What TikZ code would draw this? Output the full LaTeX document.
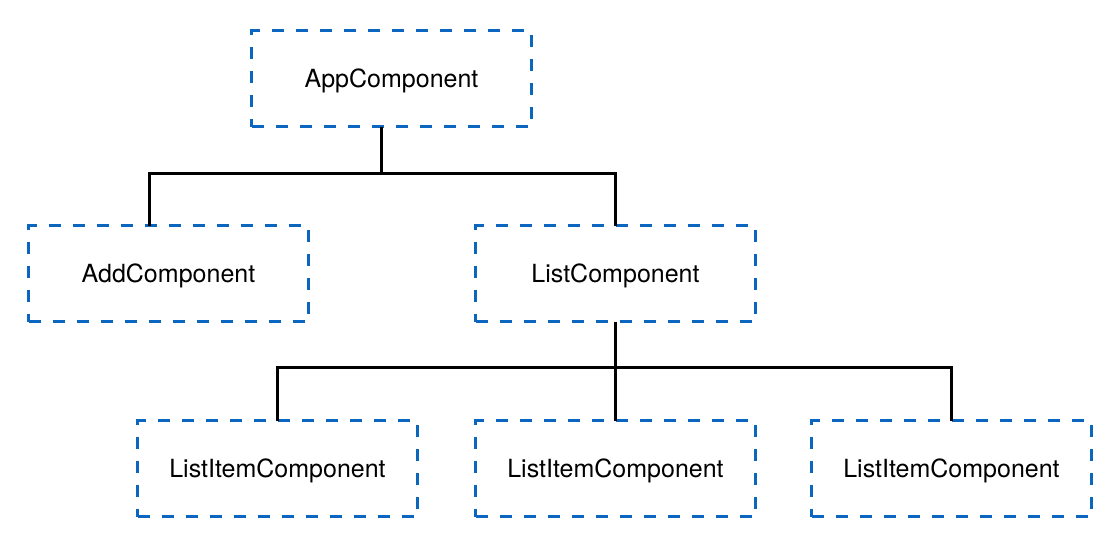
\documentclass[tikz,border=0pt]{standalone}
\usepackage{fontspec}
\setmainfont{TeX Gyre Heros}
\usepackage{xcolor}
\usetikzlibrary{positioning}
\definecolor{compblue}{RGB}{10,102,190}

\begin{document}
\begin{tikzpicture}[every node/.style={outer sep=0pt},
 comp/.style={draw=compblue,line width=1.1pt,dash pattern=on 6pt off 6pt,
 minimum width=140pt,minimum height=48pt,inner sep=0pt,text depth=0pt,
 font=\fontsize{12.5}{15}\selectfont},
 link/.style={line width=1.1pt,black}]

  \useasboundingbox (0,0) rectangle (559.5pt,-271.5pt);

  \node[comp] (app) at (195.75pt,-39.25pt) {AppComponent};
  \node[comp,below=49.5pt of app,xshift=112pt] (list) {ListComponent};
  \node[comp,left=83.5pt of list] (add) {AddComponent};
  \node[comp,below=49.5pt of list] (item2) {ListItemComponent};
  \node[comp,left=29pt of item2] (item1) {ListItemComponent};
  \node[comp,right=28pt of item2] (item3) {ListItemComponent};

  \draw[link] ([xshift=-5pt]app.south) -- ++(0,-23.5pt) coordinate (bus1);
  \draw[link] ([xshift=-9.5pt]add.north) |- (bus1) -| (list.north);

  \draw[link] (list.south) -- ++(0,-23pt) coordinate (bus2);
  \draw[link] (item1.north) |- (bus2) -| (item3.north);
  \draw[link] (bus2) -- (item2.north);

\end{tikzpicture}
\end{document}
